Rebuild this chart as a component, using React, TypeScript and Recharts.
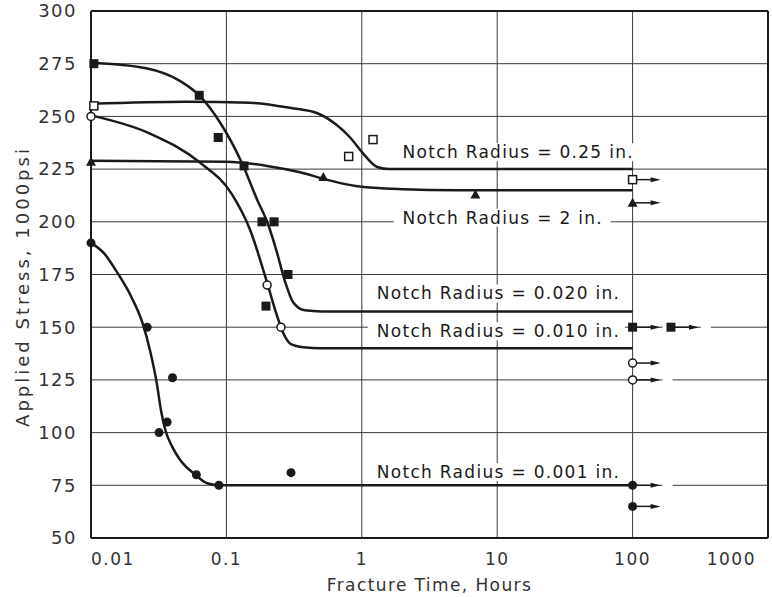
import React from "react";
import {
  ComposedChart,
  Line,
  Scatter,
  XAxis,
  YAxis,
  CartesianGrid,
  ReferenceLine,
} from "recharts";

const xTicks = [0.01, 0.1, 1, 10, 100, 1000];
const yTicks = [50, 75, 100, 125, 150, 175, 200, 225, 250, 275, 300];

// smooth curves drawn through the data
const curve025 = [
  { x: 0.01, y: 256 }, { x: 0.05, y: 257 }, { x: 0.15, y: 256.5 }, { x: 0.3, y: 254 },
  { x: 0.47, y: 251.5 }, { x: 0.65, y: 246 }, { x: 0.82, y: 240 }, { x: 1.02, y: 232.5 },
  { x: 1.3, y: 226 }, { x: 1.6, y: 225 }, { x: 100, y: 225 },
];
const curve2 = [
  { x: 0.01, y: 229 }, { x: 0.1, y: 228.5 }, { x: 0.2, y: 226.5 }, { x: 0.35, y: 223.5 },
  { x: 0.55, y: 220 }, { x: 0.9, y: 217 }, { x: 2, y: 215.5 }, { x: 5, y: 215 }, { x: 100, y: 215 },
];
const curve020 = [
  { x: 0.01, y: 275.5 }, { x: 0.025, y: 273 }, { x: 0.045, y: 267 }, { x: 0.063, y: 260 },
  { x: 0.09, y: 247 }, { x: 0.13, y: 228 }, { x: 0.17, y: 210 }, { x: 0.2, y: 200 },
  { x: 0.235, y: 186 }, { x: 0.27, y: 172 }, { x: 0.31, y: 162 }, { x: 0.38, y: 158 },
  { x: 0.5, y: 157.5 }, { x: 100, y: 157.5 },
];
const curve010 = [
  { x: 0.01, y: 250.5 }, { x: 0.027, y: 242 }, { x: 0.064, y: 228 }, { x: 0.11, y: 213 },
  { x: 0.15, y: 196 }, { x: 0.2, y: 171 }, { x: 0.235, y: 156 }, { x: 0.26, y: 148 },
  { x: 0.3, y: 142 }, { x: 0.37, y: 140.5 }, { x: 0.5, y: 140 }, { x: 100, y: 140 },
];
const curve001 = [
  { x: 0.01, y: 190 }, { x: 0.0125, y: 185 }, { x: 0.0156, y: 176 }, { x: 0.02, y: 164 },
  { x: 0.024, y: 152 }, { x: 0.0275, y: 138 }, { x: 0.0305, y: 124 }, { x: 0.033, y: 110 },
  { x: 0.0355, y: 101 }, { x: 0.04, y: 93 }, { x: 0.045, y: 87.5 }, { x: 0.059, y: 80 },
  { x: 0.072, y: 76 }, { x: 0.09, y: 75 }, { x: 100, y: 75 },
];

// test points
const pts025 = [{ x: 0.0105, y: 255 }, { x: 0.8, y: 231 }, { x: 1.21, y: 239 }];
const run025 = [{ x: 100, y: 220 }];
const pts2 = [{ x: 0.01, y: 228.5 }, { x: 0.52, y: 221.3 }, { x: 6.9, y: 213 }];
const run2 = [{ x: 100, y: 209 }];
const pts020 = [
  { x: 0.0105, y: 275 }, { x: 0.063, y: 260 }, { x: 0.087, y: 240 }, { x: 0.135, y: 226.5 },
  { x: 0.183, y: 200 }, { x: 0.225, y: 200 }, { x: 0.285, y: 175 }, { x: 0.196, y: 160 },
];
const run020 = [{ x: 100, y: 150 }, { x: 192, y: 150 }];
const pts010 = [{ x: 0.01, y: 250 }, { x: 0.2, y: 170 }, { x: 0.253, y: 150 }];
const run010 = [{ x: 100, y: 133 }, { x: 100, y: 125 }];
const pts001 = [
  { x: 0.01, y: 190 }, { x: 0.026, y: 150 }, { x: 0.04, y: 126 }, { x: 0.0318, y: 100 },
  { x: 0.0365, y: 105 }, { x: 0.06, y: 80 }, { x: 0.088, y: 75 }, { x: 0.3, y: 81 },
];
const run001 = [{ x: 100, y: 75 }, { x: 100, y: 65 }];

const notes = [
  { x: 2.0, y: 233, text: "Notch Radius = 0.25 in." },
  { x: 2.0, y: 202, text: "Notch Radius = 2 in." },
  { x: 1.29, y: 166, text: "Notch Radius = 0.020 in." },
  { x: 1.29, y: 148, text: "Notch Radius = 0.010 in." },
  { x: 1.29, y: 81.3, text: "Notch Radius = 0.001 in." },
];

const FONT = "DejaVu Sans";
const INK = "#1a1a1a";

const Marker = ({ kind, cx, cy }: any) => {
  if (kind === "sq") return <rect x={cx - 4.5} y={cy - 4.5} width={9} height={9} fill={INK} />;
  if (kind === "osq")
    return <rect x={cx - 4} y={cy - 4} width={8} height={8} fill="#fff" stroke={INK} strokeWidth={1.5} />;
  if (kind === "dot") return <circle cx={cx} cy={cy} r={4.5} fill={INK} />;
  if (kind === "odot") return <circle cx={cx} cy={cy} r={4} fill="#fff" stroke={INK} strokeWidth={1.5} />;
  return <polygon points={`${cx},${cy - 5} ${cx + 5},${cy + 4} ${cx - 5},${cy + 4}`} fill={INK} />;
};

const makeShape = (kind: string, arrow: boolean) => (props: any) => {
  const { cx, cy } = props;
  if (cx == null || cy == null) return null;
  return (
    <g>
      {arrow && (
        <>
          <rect x={cx + 30} y={cy - 2} width={10} height={4} fill="#fff" />
          <line x1={cx} y1={cy} x2={cx + 20} y2={cy} stroke={INK} strokeWidth={1.5} />
          <polygon points={`${cx + 18},${cy - 2.5} ${cx + 28},${cy} ${cx + 18},${cy + 2.5}`} fill={INK} />
        </>
      )}
      <Marker kind={kind} cx={cx} cy={cy} />
    </g>
  );
};

const NoteShape = (props: any) => {
  const { cx, cy, payload } = props;
  if (cx == null || !payload) return null;
  const w = payload.text.length * 10.05;
  return (
    <g>
      <rect x={cx - 9} y={cy - 9} width={w + 16} height={18} fill="#fff" />
      <text x={cx} y={cy + 6} fontFamily={FONT} fontSize={17} fill={INK} letterSpacing={1.3}>
        {payload.text}
      </text>
    </g>
  );
};

const XTick = (props: any) => {
  const { x, y, payload, index } = props;
  const anchor = index === 0 ? "start" : index === xTicks.length - 1 ? "end" : "middle";
  return (
    <text x={x} y={y} dy={19} textAnchor={anchor} fontFamily={FONT} fontSize={17} fill="#333" letterSpacing={1.5}>
      {String(payload.value)}
    </text>
  );
};

const YTitle = (props: any) => {
  const vb = props.viewBox;
  const cx = vb.x + 22;
  const cy = vb.y + vb.height / 2 + 12;
  return (
    <text x={cx} y={cy} transform={`rotate(-90, ${cx}, ${cy})`} textAnchor="middle" dominantBaseline="central"
      fontFamily={FONT} fontSize={18} fill="#333" letterSpacing={3}>
      Applied Stress, 1000psi
    </text>
  );
};

const curves = [curve025, curve2, curve020, curve010, curve001];
const series: [any[], string, boolean][] = [
  [pts025, "osq", false], [run025, "osq", true],
  [pts2, "tri", false], [run2, "tri", true],
  [pts020, "sq", false], [run020, "sq", true],
  [pts010, "odot", false], [run010, "odot", true],
  [pts001, "dot", false], [run001, "dot", true],
];

const App = () => {
  return (
    <div style={{ position: "absolute", left: 0, top: 0, background: "#fff" }}>
      <ComposedChart width={772} height={597} margin={{ top: 11, right: 4, left: 0, bottom: 3 }}>
        <CartesianGrid stroke="#3a3a3a" strokeWidth={1} />
        <XAxis
          dataKey="x"
          type="number"
          scale="log"
          domain={[0.01, 1000]}
          ticks={xTicks}
          height={56}
          tickLine={false}
          axisLine={{ stroke: INK, strokeWidth: 2 }}
          tick={<XTick />}
          label={{ value: "Fracture Time, Hours", position: "insideBottom", offset: 3, fontFamily: FONT, fontSize: 17, fill: "#333", letterSpacing: 1.4 }}
        />
        <YAxis
          type="number"
          domain={[50, 300]}
          ticks={yTicks}
          width={91}
          tickLine={false}
          tickMargin={8}
          axisLine={{ stroke: INK, strokeWidth: 2 }}
          tick={{ fontFamily: FONT, fontSize: 18, fill: "#333", letterSpacing: 1.5 }}
          label={<YTitle />}
        />
        <ReferenceLine y={300} stroke={INK} strokeWidth={2} />
        <ReferenceLine x={1000} stroke={INK} strokeWidth={2} />
        <Scatter data={notes} dataKey="y" shape={NoteShape} isAnimationActive={false} />
        {curves.map((c, i) => (
          <Line key={"c" + i} data={c} dataKey="y" type="monotone" dot={false} stroke={INK}
            strokeWidth={2.5} isAnimationActive={false} />
        ))}
        {series.map(([d, kind, arrow], i) => (
          <Scatter key={"s" + i} data={d} dataKey="y" shape={makeShape(kind, arrow)} isAnimationActive={false} />
        ))}
      </ComposedChart>
    </div>
  );
};

export default App;
